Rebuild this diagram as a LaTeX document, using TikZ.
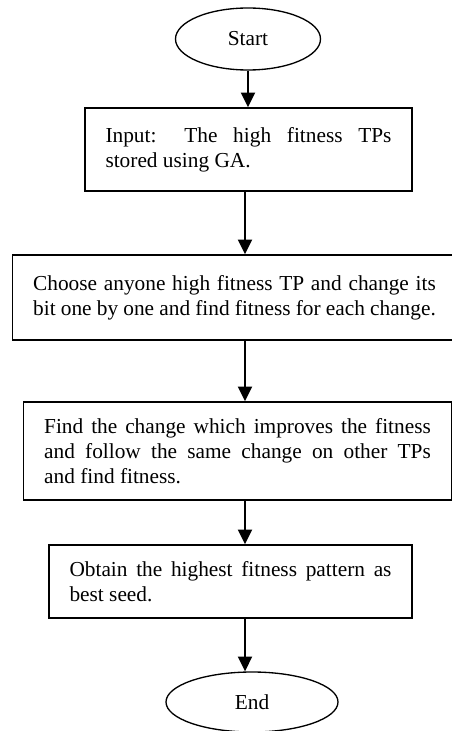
\documentclass[tikz,border=0pt]{standalone}
\usepackage{fontspec}
\setmainfont{Liberation Serif}
\usetikzlibrary{shapes.geometric,arrows.meta}

\begin{document}
\begin{tikzpicture}[x=0.75pt,y=0.75pt,yscale=-1,xscale=1,
  terminal/.style={draw,line width=1pt,ellipse,inner sep=0pt,font=\fontsize{16}{18.75}\selectfont},
  process/.style={draw,line width=1.2pt,rectangle,align=justify,inner xsep=15.5pt,inner ysep=0pt,font=\fontsize{16}{18.75}\selectfont},
  flow/.style={line width=1.5pt,-{Triangle[length=11pt,width=10.5pt]}}]

\useasboundingbox (0,0) rectangle (451,731);

% spine for the arrows
\coordinate (spine) at (245,0);

\node [process,text width=214.5pt,minimum height=62.25pt] (input) at (248.5,149.5) {Input: The high fitness TPs\linebreak stored using GA.};

\node [terminal,minimum width=108.75pt,minimum height=46.5pt] (start) at (248,39) {Start};

\node [process,text width=302pt,minimum height=63.75pt] (choose) at (234.5,297.5) {Choose anyone high fitness TP and change its\linebreak bit one by one and find fitness for each change.};

\node [process,text width=290pt,minimum height=73.5pt] (improve) at (237.5,451) {Find the change which improves the fitness\linebreak and follow the same change on other TPs\linebreak and find fitness.};

\node [process,text width=241.5pt,minimum height=54.75pt] (obtain) at (230.5,581.5) {Obtain the highest fitness pattern as\linebreak best seed.};

\node [terminal,minimum width=129pt,minimum height=45pt] (end) at (252,702) {End};

\draw [flow] (start.south) -- (start.south |- input.north);
\draw [flow] (input.south -| spine) -- (choose.north -| spine);
\draw [flow] (choose.south -| spine) -- (improve.north -| spine);
\draw [flow] (improve.south -| spine) -- (obtain.north -| spine);
\draw [flow] (obtain.south -| spine) -- (end.north -| spine);

\end{tikzpicture}
\end{document}
